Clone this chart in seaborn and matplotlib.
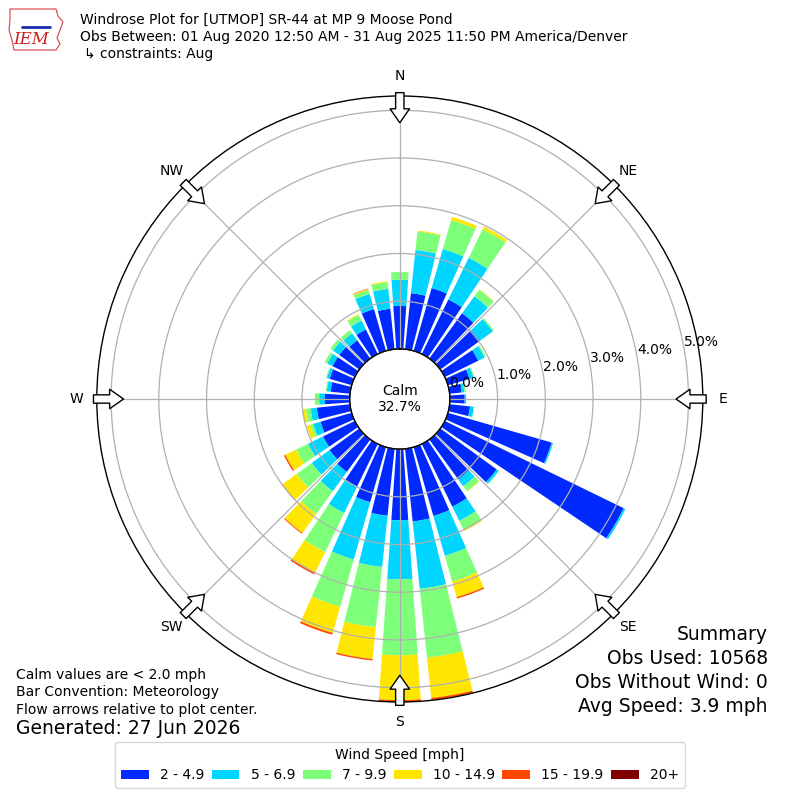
import numpy as np
import matplotlib
matplotlib.use("Agg")
import matplotlib.pyplot as plt
import seaborn as sns
from matplotlib.patches import Patch, Polygon

# wind directions (deg, meteorological) and speed bins
directions = np.arange(0, 360, 10)
speed_labels = ["2 - 4.9", "5 - 6.9", "7 - 9.9", "10 - 14.9", "15 - 19.9", "20+"]

# percent of observations per direction for each speed bin
pct_2_5 = [0.90, 1.18, 1.37, 1.27, 1.17, 1.02, 0.78, 0.47, 0.25, 0.31, 0.43, 2.26,
           4.17, 1.46, 1.03, 1.46, 1.50, 1.53, 1.49, 1.41, 1.20, 0.99, 0.84, 0.77,
           0.74, 0.68, 0.70, 0.52, 0.41, 0.48, 0.52, 0.52, 0.47, 0.57, 0.91, 0.85]
pct_5_7 = [0.55, 0.91, 0.85, 0.97, 0.44, 0.34, 0.15, 0.09, 0.06, 0.03, 0.08, 0.03,
           0.04, 0.05, 0.18, 0.33, 0.87, 1.42, 1.24, 1.08, 1.25, 0.62, 0.50, 0.46,
           0.35, 0.16, 0.13, 0.12, 0.08, 0.06, 0.12, 0.16, 0.18, 0.21, 0.33, 0.42]
pct_7_10 = [0.16, 0.39, 0.63, 0.67, 0.17, 0.03, 0.03, 0.02, 0.03, 0.00, 0.01, 0.00,
            0.00, 0.01, 0.13, 0.22, 0.56, 1.45, 1.59, 1.27, 1.03, 0.91, 0.59, 0.39,
            0.28, 0.06, 0.10, 0.09, 0.02, 0.02, 0.06, 0.07, 0.08, 0.13, 0.09, 0.14]
pct_10_15 = [0.00, 0.02, 0.07, 0.06, 0.01, 0.00, 0.00, 0.00, 0.00, 0.00, 0.00, 0.00,
             0.00, 0.00, 0.01, 0.02, 0.34, 0.85, 0.94, 0.67, 0.57, 0.47, 0.49, 0.37,
             0.25, 0.08, 0.07, 0.00, 0.00, 0.00, 0.00, 0.00, 0.00, 0.02, 0.02, 0.02]
pct_15_20 = [0.00, 0.00, 0.00, 0.00, 0.00, 0.00, 0.00, 0.00, 0.00, 0.00, 0.00, 0.00,
             0.00, 0.00, 0.00, 0.00, 0.03, 0.04, 0.04, 0.03, 0.04, 0.05, 0.02, 0.01,
             0.03, 0.00, 0.00, 0.00, 0.00, 0.00, 0.00, 0.00, 0.00, 0.00, 0.01, 0.00]
pct_20p = [0.00, 0.00, 0.00, 0.00, 0.00, 0.00, 0.00, 0.00, 0.00, 0.00, 0.00, 0.00,
           0.00, 0.00, 0.00, 0.00, 0.00, 0.00, 0.00, 0.00, 0.00, 0.00, 0.00, 0.00,
           0.00, 0.00, 0.00, 0.00, 0.00, 0.00, 0.00, 0.00, 0.00, 0.00, 0.00, 0.00]

calm_pct = 32.7
rings = [0, 1, 2, 3, 4, 5]
compass = ["N", "NE", "E", "SE", "S", "SW", "W", "NW"]
compass_deg = [0, 45, 90, 135, 180, 225, 270, 315]

sns.set_style("white", {"axes.edgecolor": "black", "text.color": "black",
                        "grid.color": "#b0b0b0"})
plt.rcParams["font.family"] = ["DejaVu Sans"]

colors = [plt.cm.jet(v) for v in np.linspace(0, 1, 7)[1:]]
bins = [pct_2_5, pct_5_7, pct_7_10, pct_10_15, pct_15_20, pct_20p]

fig = plt.figure(figsize=(8, 8), dpi=100)
ax = fig.add_axes([0.121, 0.1225, 0.7575, 0.7575], projection="polar")
ax.set_theta_zero_location("N")
ax.set_theta_direction(-1)
ax.set_rorigin(-1.05)
ax.set_ylim(0, 5.3)

theta = np.deg2rad(directions)
bottom = np.zeros(len(directions))
for vals, col in zip(bins, colors):
    vals = np.array(vals)
    ax.bar(theta, vals, width=np.deg2rad(8), bottom=bottom, color=col,
           edgecolor="none", zorder=1)
    bottom += vals

# grid
ax.set_xticks(np.deg2rad(compass_deg))
ax.set_xticklabels([])
ax.set_yticks(rings)
ax.set_yticklabels([])
ax.tick_params(length=0)
ax.grid(True, color="#b0b0b0", lw=0.9)
ax.set_axisbelow(False)
ax.spines["polar"].set_color("black")
ax.spines["polar"].set_linewidth(1.0)

# calm circle edge
circ = np.linspace(0, 2 * np.pi, 361)
ax.plot(circ, np.zeros_like(circ), color="black", lw=1, zorder=4, clip_on=False)
ax.text(0.5, 0.5, "Calm\n%.1f%%" % calm_pct, transform=ax.transAxes,
        ha="center", va="center", fontsize=10, zorder=10)

# ring labels
for r in rings:
    ax.text(np.deg2rad(80), r, "%.1f%%" % r, ha="left", va="bottom",
            fontsize=10, zorder=6)

# compass labels and inward flow arrows
for lab, d in zip(compass, compass_deg):
    t = np.deg2rad(d)
    ax.text(t, 5.72, lab, ha="center", va="center", fontsize=10, clip_on=False)
    ax.annotate("", xy=(t, 4.74), xytext=(t, 5.37), annotation_clip=False,
                arrowprops=dict(arrowstyle="simple,head_length=0.5,head_width=0.7,tail_width=0.3",
                                fc="white", ec="black", lw=1, mutation_scale=20,
                                shrinkA=0, shrinkB=0), zorder=7)

# header logo (rough state outline + text)
logo = Polygon([(10, 9), (56, 9), (58, 16), (63, 22), (60, 30), (57, 38),
                (60, 44), (56, 50), (14, 50), (12, 40), (9, 30), (10, 20)],
               closed=True, fill=False, ec="#d04040", lw=0.8,
               transform=None)
logo.set_xy([(x, 800 - y) for x, y in logo.get_xy()])
fig.add_artist(logo)
fig.lines.append(plt.Line2D([22 / 800, 50 / 800], [1 - 27 / 800, 1 - 27 / 800],
                            transform=fig.transFigure, color="#1a2db0", lw=2))
fig.text(31 / 800, 1 - 39 / 800, "IEM", color="#cc1f1f", fontstyle="italic",
         family="DejaVu Serif", fontsize=12, ha="center", va="center")
fig.text(80 / 800, 1 - 20 / 800, "Windrose Plot for [UTMOP] SR-44 at MP 9 Moose Pond",
         fontsize=10, va="center")
fig.text(80 / 800, 1 - 37 / 800,
         "Obs Between: 01 Aug 2020 12:50 AM - 31 Aug 2025 11:50 PM America/Denver",
         fontsize=10, va="center")
fig.text(84 / 800, 1 - 54 / 800, "\u21b3 constraints: Aug", fontsize=10, va="center")

# footer notes
fig.text(16 / 800, 1 - 675 / 800, "Calm values are < 2.0 mph", fontsize=10, va="center")
fig.text(16 / 800, 1 - 692 / 800, "Bar Convention: Meteorology", fontsize=10, va="center")
fig.text(16 / 800, 1 - 710 / 800, "Flow arrows relative to plot center.", fontsize=10,
         va="center")
fig.text(16 / 800, 1 - 729 / 800, "Generated: 27 Jun 2026", fontsize=13.5, va="center")

summary = ["Summary", "Obs Used: 10568", "Obs Without Wind: 0", "Avg Speed: 3.9 mph"]
for i, line in enumerate(summary):
    fig.text(768 / 800, 1 - (635 + 24 * i) / 800, line, fontsize=13.5, ha="right",
             va="center")

handles = [Patch(facecolor=c, edgecolor="none", label=l)
           for c, l in zip(colors, speed_labels)]
fig.legend(handles=handles, loc="lower center", bbox_to_anchor=(0.5, 0.015),
           ncol=6, title="Wind Speed [mph]", fontsize=10, title_fontsize=10,
           columnspacing=0.55, handlelength=2.0, handleheight=0.6,
           borderaxespad=0, frameon=True)

fig.savefig("out.png", dpi=100)
